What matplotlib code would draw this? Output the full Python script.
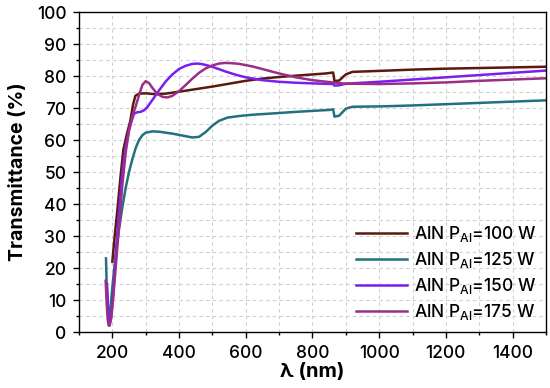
import numpy as np
import matplotlib
matplotlib.use("Agg")
import matplotlib.pyplot as plt
from matplotlib.ticker import MultipleLocator

# transmittance spectra, wavelength in nm
wl_100 = [200, 207, 215, 224, 233, 244, 254, 262, 269, 280, 300, 330, 360, 400, 450, 500,
          550, 600, 650, 700, 750, 800, 840, 862, 866, 880, 900, 920, 1000, 1100, 1200, 1300,
          1400, 1500]
t_100 = [22, 30, 38, 48, 57, 62, 66, 71, 73.8, 74.5, 74.6, 74.3, 74.5, 75.1, 75.9, 76.7,
         77.6, 78.5, 79.2, 79.7, 80.1, 80.5, 80.8, 81.1, 78.4, 78.6, 80.5, 81.3, 81.6, 82.0,
         82.3, 82.5, 82.7, 82.9]

wl_125 = [181, 183, 186, 190, 195, 200, 210, 220, 230, 240, 250, 260, 270, 280, 290, 300,
          320, 340, 360, 380, 400, 420, 440, 460, 480, 500, 520, 545, 580, 620, 680, 750,
          800, 850, 862, 866, 880, 900, 920, 1000, 1100, 1200, 1300, 1400, 1500]
t_125 = [23, 15, 9, 5, 8, 14, 24, 32, 39, 45, 50, 54, 57.5, 60, 61.5, 62.3,
         62.7, 62.6, 62.3, 62.0, 61.6, 61.2, 60.8, 61.0, 62.5, 64.5, 66.0, 67.0, 67.5, 67.9, 68.3, 68.8,
         69.1, 69.4, 69.6, 67.3, 67.6, 69.8, 70.4, 70.5, 70.8, 71.2, 71.6, 72.0, 72.4]

wl_150 = [184, 187, 190, 193, 197, 203, 210, 220, 230, 240, 250, 258, 265, 275, 285, 295,
          305, 320, 340, 360, 380, 400, 420, 440, 455, 470, 490, 510, 540, 570, 600, 650,
          700, 750, 800, 862, 866, 880, 900, 1000, 1100, 1200, 1300, 1400, 1500]
t_150 = [15, 8, 4, 3, 5, 12, 24, 38, 50, 58, 63, 66, 68.2, 68.7, 68.8, 69.3,
         70.3, 72.5, 75.5, 78.3, 80.5, 82.2, 83.2, 83.8, 83.9, 83.7, 83.2, 82.5, 81.4, 80.4, 79.6, 78.7,
         78.2, 77.9, 77.7, 77.5, 77.0, 77.1, 77.6, 78.2, 78.9, 79.6, 80.3, 81.0, 81.7]

wl_175 = [180, 183, 186, 189, 192, 196, 202, 210, 220, 230, 240, 250, 260, 270, 280, 290,
          300, 310, 320, 335, 350, 365, 380, 400, 420, 440, 460, 480, 500, 520, 540, 560,
          580, 620, 660, 700, 750, 800, 860, 900, 1000, 1100, 1200, 1300, 1400, 1500]
t_175 = [16, 9, 4, 2, 2, 4, 10, 20, 33, 46, 56, 63, 67.5, 70.5, 74, 77.2,
         78.4, 77.8, 76.3, 74.4, 73.5, 73.3, 73.8, 75.3, 77.2, 79.2, 81.0, 82.4, 83.3, 83.9, 84.1, 84.0,
         83.8, 83.0, 81.9, 80.8, 79.6, 78.7, 78.0, 77.6, 77.5, 77.7, 78.0, 78.5, 78.9, 79.3]

labels = [r'AlN P$_{\mathregular{Al}}$=100 W', r'AlN P$_{\mathregular{Al}}$=125 W',
          r'AlN P$_{\mathregular{Al}}$=150 W', r'AlN P$_{\mathregular{Al}}$=175 W']
colors = ['#5a1a0e', '#23707f', '#7a1ff0', '#9a2f85']

plt.rcParams['font.family'] = ['Inter', 'DejaVu Sans']
plt.rcParams['font.weight'] = 'medium'
plt.rcParams['mathtext.default'] = 'regular'

fig = plt.figure(figsize=(5.5, 3.88), dpi=100)
ax = fig.add_axes([0.1436, 0.1443, 0.849, 0.8247])

series = [(wl_100, t_100), (wl_125, t_125), (wl_150, t_150), (wl_175, t_175)]
for (x, y), c, lab in zip(series, colors, labels):
    ax.plot(x, y, color=c, lw=1.8, label=lab)

ax.set_xlim(100, 1500)
ax.set_ylim(0, 100)
ax.xaxis.set_major_locator(MultipleLocator(200))
ax.xaxis.set_minor_locator(MultipleLocator(100))
ax.yaxis.set_major_locator(MultipleLocator(10))
ax.yaxis.set_minor_locator(MultipleLocator(5))
ax.grid(True, which='both', color='#cfcfcf', linestyle=(0, (3, 3)), linewidth=0.8)
ax.set_axisbelow(True)

ax.tick_params(which='major', direction='out', length=4, width=1, labelsize=12.5,
               top=False, right=False, pad=5)
ax.tick_params(which='minor', direction='out', length=2.5, width=1, top=False, right=False)
for s in ax.spines.values():
    s.set_linewidth(1.0)

ax.set_xlabel('λ (nm)', fontsize=14.5, fontweight='bold', labelpad=1)
ax.set_ylabel('Transmittance (%)', fontsize=14, fontweight='bold', labelpad=7)

ax.legend(loc='lower right', frameon=False, fontsize=12.5, handlelength=2.9,
          handletextpad=0.4, labelspacing=0.36, borderaxespad=0.15)

fig.savefig('out.png', dpi=100)
